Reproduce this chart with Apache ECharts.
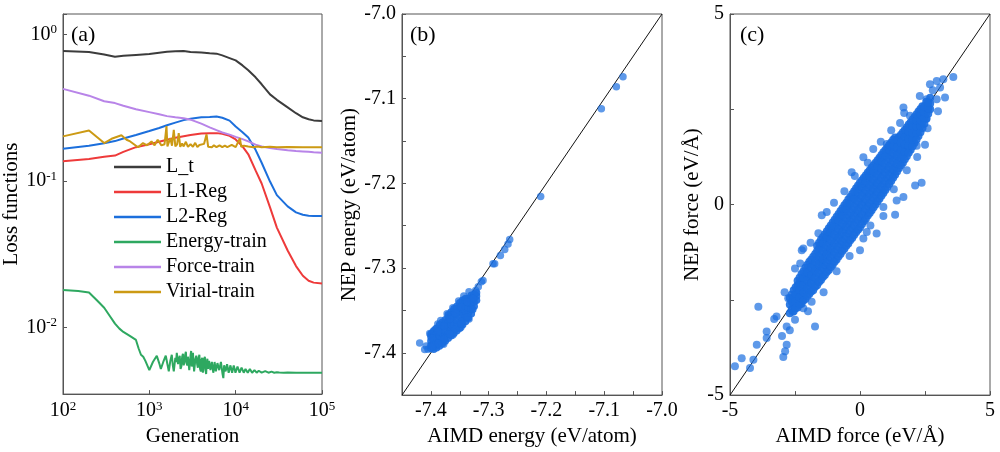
<!DOCTYPE html>
<html><head><meta charset="utf-8">
<script src="https://cdn.jsdelivr.net/npm/echarts@6/dist/echarts.min.js"></script>
<style>html,body{margin:0;padding:0;background:#fff}#c{width:1000px;height:452px}</style>
</head><body><div id="c"></div>
<script>
const FONT = '"Liberation Serif","Times New Roman",serif';

// ---------- Panel (a): loss functions ----------
const genGrid = [100,200,300,400,500,700,1000,1300,1600,2000,2500,3000,4000,5000,6000,7000,8500,10000,12000,14000,17000,20000,25000,30000,40000,50000,60000,70000,80000,100000];
const lossTotal = [0.77,0.76,0.73,0.705,0.715,0.725,0.735,0.75,0.762,0.768,0.772,0.76,0.752,0.745,0.74,0.72,0.69,0.665,0.615,0.57,0.51,0.457,0.39,0.358,0.318,0.29,0.272,0.264,0.259,0.257];
const lossL1 = [0.136,0.141,0.146,0.149,0.158,0.170,0.178,0.185,0.191,0.197,0.202,0.206,0.211,0.212,0.212,0.210,0.203,0.192,0.172,0.152,0.118,0.096,0.066,0.048,0.0335,0.0262,0.0225,0.0208,0.0202,0.0199];
const lossL2 = [0.166,0.174,0.181,0.187,0.195,0.206,0.219,0.23,0.24,0.25,0.26,0.266,0.272,0.273,0.275,0.27,0.258,0.235,0.215,0.198,0.163,0.133,0.099,0.08,0.067,0.061,0.0587,0.0578,0.0575,0.0575];
const lossForce = [0.425,0.382,0.35,0.34,0.326,0.309,0.295,0.285,0.277,0.272,0.268,0.262,0.246,0.232,0.222,0.214,0.207,0.200,0.193,0.186,0.177,0.172,0.168,0.165,0.162,0.160,0.159,0.158,0.157,0.156];

const energyGen = [100,150,200,250,300,350,400,450,500,600,700,750,800,850,900,1000,1100,1220,1300,1360,1450,1550,1620,1680,1750,1820,1870,1920,2000,2040,2080,2150,2200,2250,2300,2350,2400,2450,2500,2550,2600,2650,2700,2750,2800,2850,2900,2950,3000,3050,3100,3150,3200,3250,3300,3350,3420,3500,3580,3650,3720,3800,3870,3950,4020,4100,4170,4250,4320,4400,4470,4550,4620,4700,4780,4850,4920,5000,5100,5200,5300,5400,5500,5600,5700,5800,5900,6000,6150,6300,6450,6600,6750,6900,7050,7200,7350,7500,7650,7800,7950,8100,8300,8500,8700,8900,9100,9300,9500,9700,9950,10200,10500,10800,11100,11400,11700,12000,12400,12700,13000,13400,13800,14200,14600,15000,15500,16000,16500,17000,17500,18000,18500,19000,19500,20000,21000,22000,23000,24000,25000,26000,27000,28000,30000,32000,36000,40000,50000,70000,100000];
const energyLoss = [0.018,0.0177,0.0173,0.0152,0.0136,0.0119,0.0106,0.0098,0.0093,0.0087,0.0082,0.0072,0.0065,0.0063,0.0059,0.0051,0.0058,0.0064,0.0057,0.0052,0.0058,0.0064,0.0056,0.0050,0.0059,0.0065,0.0055,0.0050,0.0062,0.0058,0.0067,0.0056,0.0061,0.0064,0.0052,0.0054,0.0063,0.0066,0.0055,0.0058,0.0065,0.0068,0.0057,0.0055,0.0063,0.0065,0.0051,0.0052,0.0064,0.0069,0.0054,0.0056,0.0067,0.0066,0.0050,0.0051,0.0061,0.0064,0.0056,0.0053,0.0062,0.0065,0.0052,0.0050,0.0060,0.0062,0.0049,0.0054,0.0061,0.0063,0.0051,0.0048,0.0057,0.0061,0.0052,0.0053,0.0059,0.0060,0.0051,0.0050,0.0058,0.0059,0.0049,0.0052,0.0058,0.0058,0.0050,0.0049,0.0057,0.0058,0.0051,0.0052,0.0058,0.0057,0.0048,0.0045,0.0055,0.0056,0.0050,0.0051,0.0056,0.0057,0.0049,0.0050,0.0055,0.0056,0.0049,0.0050,0.0055,0.0055,0.0049,0.0049,0.0054,0.0054,0.0049,0.0050,0.0053,0.0053,0.0049,0.0049,0.0052,0.0052,0.0049,0.0048,0.0052,0.0052,0.0049,0.0049,0.0051,0.0051,0.0049,0.0049,0.00505,0.00505,0.0049,0.0049,0.00502,0.00502,0.0049,0.0049,0.00498,0.00498,0.0049,0.0049,0.00494,0.00492,0.0049,0.00491,0.00489,0.00489,0.00489,0.00488];

const virialGen = [100,200,300,365,475,545,600,740,845,940,1060,1150,1250,1380,1500,1580,1620,1750,1830,1920,2000,2100,2190,2280,2400,2500,2650,2800,3000,3200,3400,3600,3800,4000,4300,4600,4800,5000,5300,5600,6000,6500,7000,7500,8000,9000,10000,11200,11600,12500,14000,16000,18000,20000,25000,30000,40000,60000,100000];
const virialLoss = [0.2015,0.221,0.1814,0.194,0.205,0.191,0.186,0.1696,0.1814,0.175,0.186,0.175,0.191,0.175,0.178,0.237,0.172,0.196,0.174,0.2234,0.172,0.178,0.212,0.171,0.18,0.172,0.185,0.171,0.178,0.171,0.182,0.170,0.176,0.171,0.179,0.208,0.171,0.176,0.170,0.175,0.170,0.175,0.170,0.174,0.170,0.176,0.170,0.196,0.171,0.174,0.172,0.170,0.172,0.170,0.171,0.170,0.1705,0.170,0.170];

// ---------- Panel (b): energy parity ----------
const energyOutliers = [
[-7.0675,-7.0741],[-7.079,-7.0859],[-7.105,-7.1118],[-7.21,-7.2154],[-7.2636,-7.2664],[-7.2665,-7.2715],[-7.2722,-7.2782],[-7.2797,-7.2853],[-7.2896,-7.295],[-7.2925,-7.295],[-7.3098,-7.3147],[-7.3127,-7.3162],[-7.3225,-7.3264],[-7.318,-7.322],
[-7.4194,-7.3884],[-7.4107,-7.3962],[-7.405,-7.396],[-7.402,-7.3774],[-7.408,-7.392],
[-7.392,-7.372],[-7.383,-7.362],[-7.372,-7.354],[-7.362,-7.347],[-7.352,-7.339],[-7.343,-7.333],[-7.334,-7.328],
[-7.378,-7.390],[-7.362,-7.379],[-7.348,-7.370],[-7.334,-7.360],[-7.397,-7.376],[-7.388,-7.366]
];
const energyCluster = [
[-7.400,-7.395],[-7.400,-7.391],[-7.400,-7.386],[-7.400,-7.381],[-7.400,-7.378],
[-7.395,-7.396],[-7.395,-7.391],[-7.395,-7.385],[-7.395,-7.379],[-7.395,-7.374],
[-7.390,-7.394],[-7.390,-7.388],[-7.390,-7.382],[-7.390,-7.377],[-7.390,-7.371],
[-7.385,-7.392],[-7.385,-7.386],[-7.385,-7.380],[-7.385,-7.374],[-7.385,-7.367],
[-7.380,-7.389],[-7.380,-7.383],[-7.380,-7.377],[-7.380,-7.370],[-7.380,-7.364],
[-7.375,-7.386],[-7.375,-7.380],[-7.375,-7.374],[-7.375,-7.367],[-7.375,-7.361],
[-7.370,-7.383],[-7.370,-7.377],[-7.370,-7.370],[-7.370,-7.364],[-7.370,-7.358],[-7.370,-7.355],
[-7.365,-7.380],[-7.365,-7.374],[-7.365,-7.367],[-7.365,-7.361],[-7.365,-7.355],[-7.365,-7.352],
[-7.360,-7.377],[-7.360,-7.371],[-7.360,-7.364],[-7.360,-7.357],[-7.360,-7.351],[-7.360,-7.348],
[-7.355,-7.374],[-7.355,-7.367],[-7.355,-7.361],[-7.355,-7.354],[-7.355,-7.348],[-7.355,-7.345],
[-7.350,-7.371],[-7.350,-7.364],[-7.350,-7.357],[-7.350,-7.351],[-7.350,-7.345],[-7.350,-7.341],
[-7.345,-7.367],[-7.345,-7.361],[-7.345,-7.354],[-7.345,-7.348],[-7.345,-7.342],[-7.345,-7.338],
[-7.340,-7.363],[-7.340,-7.357],[-7.340,-7.351],[-7.340,-7.345],[-7.340,-7.339],[-7.340,-7.336],
[-7.335,-7.359],[-7.335,-7.353],[-7.335,-7.347],[-7.335,-7.341],[-7.335,-7.336],
[-7.330,-7.354],[-7.330,-7.348],[-7.330,-7.342],[-7.330,-7.337],[-7.330,-7.332],
[-7.325,-7.345],[-7.325,-7.340],[-7.325,-7.335],[-7.325,-7.331],
[-7.321,-7.338],[-7.321,-7.333],[-7.321,-7.329],
[-7.3975,-7.393],[-7.3975,-7.383],[-7.3875,-7.389],[-7.3875,-7.375],[-7.3775,-7.384],[-7.3775,-7.368],
[-7.3675,-7.378],[-7.3675,-7.360],[-7.3575,-7.372],[-7.3575,-7.353],[-7.3475,-7.366],[-7.3475,-7.346],
[-7.3375,-7.358],[-7.3375,-7.340],[-7.3275,-7.349],[-7.3275,-7.336]
];

// ---------- Panel (c): force parity ----------
const forceCore = [
[-2.70,-2.85],[-2.70,-2.62],[-2.70,-2.45],
[-2.55,-2.80],[-2.55,-2.62],[-2.55,-2.43],[-2.55,-2.25],
[-2.40,-2.70],[-2.40,-2.50],[-2.40,-2.31],[-2.40,-2.12],[-2.40,-2.00],
[-2.25,-2.60],[-2.25,-2.40],[-2.25,-2.20],[-2.25,-2.00],[-2.25,-1.82],
[-2.10,-2.48],[-2.10,-2.27],[-2.10,-2.06],[-2.10,-1.86],[-2.10,-1.66],
[-1.95,-2.35],[-1.95,-2.13],[-1.95,-1.92],[-1.95,-1.71],[-1.95,-1.50],
[-1.80,-2.25],[-1.80,-2.02],[-1.80,-1.80],[-1.80,-1.58],[-1.80,-1.37],
[-1.65,-2.12],[-1.65,-1.88],[-1.65,-1.65],[-1.65,-1.43],[-1.65,-1.22],[-1.65,-1.08],
[-1.50,-1.98],[-1.50,-1.74],[-1.50,-1.51],[-1.50,-1.29],[-1.50,-1.07],[-1.50,-0.92],
[-1.35,-1.85],[-1.35,-1.60],[-1.35,-1.37],[-1.35,-1.15],[-1.35,-0.92],[-1.35,-0.78],
[-1.20,-1.72],[-1.20,-1.46],[-1.20,-1.23],[-1.20,-1.01],[-1.20,-0.78],[-1.20,-0.62],
[-1.05,-1.58],[-1.05,-1.32],[-1.05,-1.09],[-1.05,-0.86],[-1.05,-0.63],[-1.05,-0.47],
[-0.90,-1.44],[-0.90,-1.18],[-0.90,-0.94],[-0.90,-0.71],[-0.90,-0.48],[-0.90,-0.32],
[-0.75,-1.30],[-0.75,-1.04],[-0.75,-0.80],[-0.75,-0.57],[-0.75,-0.34],[-0.75,-0.17],
[-0.60,-1.16],[-0.60,-0.90],[-0.60,-0.66],[-0.60,-0.42],[-0.60,-0.19],[-0.60,-0.02],
[-0.45,-1.02],[-0.45,-0.76],[-0.45,-0.51],[-0.45,-0.28],[-0.45,-0.05],[-0.45,0.13],
[-0.30,-0.88],[-0.30,-0.62],[-0.30,-0.37],[-0.30,-0.13],[-0.30,0.10],[-0.30,0.28],
[-0.15,-0.73],[-0.15,-0.47],[-0.15,-0.22],[-0.15,0.02],[-0.15,0.25],[-0.15,0.43],
[0.00,-0.60],[0.00,-0.33],[0.00,-0.08],[0.00,0.16],[0.00,0.39],[0.00,0.58],
[0.15,-0.44],[0.15,-0.18],[0.15,0.07],[0.15,0.30],[0.15,0.53],[0.15,0.70],
[0.30,-0.29],[0.30,-0.04],[0.30,0.21],[0.30,0.44],[0.30,0.67],[0.30,0.84],
[0.45,-0.15],[0.45,0.10],[0.45,0.35],[0.45,0.58],[0.45,0.80],[0.45,0.97],
[0.60,0.00],[0.60,0.25],[0.60,0.49],[0.60,0.72],[0.60,0.94],[0.60,1.10],
[0.75,0.15],[0.75,0.40],[0.75,0.63],[0.75,0.86],[0.75,1.08],[0.75,1.23],
[0.90,0.30],[0.90,0.54],[0.90,0.78],[0.90,1.00],[0.90,1.22],[0.90,1.37],
[1.05,0.46],[1.05,0.69],[1.05,0.92],[1.05,1.14],[1.05,1.36],[1.05,1.50],
[1.20,0.62],[1.20,0.84],[1.20,1.06],[1.20,1.28],[1.20,1.50],[1.20,1.63],
[1.35,0.78],[1.35,0.99],[1.35,1.21],[1.35,1.42],[1.35,1.63],[1.35,1.76],
[1.50,0.95],[1.50,1.15],[1.50,1.36],[1.50,1.56],[1.50,1.77],
[1.65,1.10],[1.65,1.30],[1.65,1.50],[1.65,1.70],[1.65,1.90],
[1.80,1.27],[1.80,1.46],[1.80,1.65],[1.80,1.84],[1.80,2.03],
[1.95,1.44],[1.95,1.62],[1.95,1.80],[1.95,1.98],[1.95,2.16],
[2.10,1.62],[2.10,1.79],[2.10,1.96],[2.10,2.13],[2.10,2.30],
[2.25,1.80],[2.25,1.96],[2.25,2.12],[2.25,2.28],[2.25,2.44],
[2.40,2.00],[2.40,2.15],[2.40,2.30],[2.40,2.45],[2.40,2.58],
[2.55,2.25],[2.55,2.40],[2.55,2.55],[2.55,2.70],
[2.70,2.50],[2.70,2.65],[2.70,2.80],
[-2.625,-2.75],[-2.625,-2.55],[-2.625,-2.36],
[-2.475,-2.72],[-2.475,-2.53],[-2.475,-2.34],[-2.475,-2.17],
[-2.325,-2.62],[-2.325,-2.43],[-2.325,-2.24],[-2.325,-2.06],[-2.325,-1.92],
[-2.175,-2.52],[-2.175,-2.31],[-2.175,-2.11],[-2.175,-1.92],[-2.175,-1.75],
[-2.025,-2.40],[-2.025,-2.19],[-2.025,-1.98],[-2.025,-1.78],[-2.025,-1.58],
[-1.875,-2.28],[-1.875,-2.06],[-1.875,-1.85],[-1.875,-1.64],[-1.875,-1.44],
[-1.725,-2.16],[-1.725,-1.93],[-1.725,-1.71],[-1.725,-1.50],[-1.725,-1.30],
[-1.575,-2.03],[-1.575,-1.80],[-1.575,-1.57],[-1.575,-1.36],[-1.575,-1.15],[-1.575,-1.00],
[-1.425,-1.90],[-1.425,-1.66],[-1.425,-1.44],[-1.425,-1.22],[-1.425,-1.00],[-1.425,-0.85],
[-1.275,-1.77],[-1.275,-1.52],[-1.275,-1.30],[-1.275,-1.08],[-1.275,-0.86],[-1.275,-0.70],
[-1.125,-1.64],[-1.125,-1.39],[-1.125,-1.16],[-1.125,-0.93],[-1.125,-0.71],[-1.125,-0.55],
[-0.975,-1.50],[-0.975,-1.25],[-0.975,-1.02],[-0.975,-0.79],[-0.975,-0.56],[-0.975,-0.40],
[-0.825,-1.36],[-0.825,-1.11],[-0.825,-0.87],[-0.825,-0.64],[-0.825,-0.41],[-0.825,-0.25],
[-0.675,-1.22],[-0.675,-0.97],[-0.675,-0.73],[-0.675,-0.50],[-0.675,-0.27],[-0.675,-0.10],
[-0.525,-1.08],[-0.525,-0.83],[-0.525,-0.58],[-0.525,-0.35],[-0.525,-0.12],[-0.525,0.05],
[-0.375,-0.94],[-0.375,-0.69],[-0.375,-0.44],[-0.375,-0.20],[-0.375,0.03],[-0.375,0.20],
[-0.225,-0.80],[-0.225,-0.54],[-0.225,-0.29],[-0.225,-0.06],[-0.225,0.17],[-0.225,0.35],
[-0.075,-0.66],[-0.075,-0.40],[-0.075,-0.15],[-0.075,0.09],[-0.075,0.32],[-0.075,0.50],
[0.075,-0.52],[0.075,-0.26],[0.075,-0.01],[0.075,0.23],[0.075,0.46],[0.075,0.64],
[0.225,-0.37],[0.225,-0.11],[0.225,0.14],[0.225,0.37],[0.225,0.60],[0.225,0.77],
[0.375,-0.22],[0.375,0.03],[0.375,0.28],[0.375,0.51],[0.375,0.74],[0.375,0.90],
[0.525,-0.07],[0.525,0.18],[0.525,0.42],[0.525,0.65],[0.525,0.87],[0.525,1.03],
[0.675,0.08],[0.675,0.33],[0.675,0.56],[0.675,0.79],[0.675,1.01],[0.675,1.16],
[0.825,0.23],[0.825,0.47],[0.825,0.70],[0.825,0.93],[0.825,1.15],[0.825,1.30],
[0.975,0.38],[0.975,0.62],[0.975,0.85],[0.975,1.07],[0.975,1.29],[0.975,1.43],
[1.125,0.54],[1.125,0.77],[1.125,0.99],[1.125,1.21],[1.125,1.43],[1.125,1.56],
[1.275,0.70],[1.275,0.92],[1.275,1.14],[1.275,1.35],[1.275,1.56],[1.275,1.70],
[1.425,0.87],[1.425,1.07],[1.425,1.29],[1.425,1.49],[1.425,1.70],
[1.575,1.03],[1.575,1.23],[1.575,1.43],[1.575,1.63],[1.575,1.83],
[1.725,1.19],[1.725,1.38],[1.725,1.58],[1.725,1.77],[1.725,1.96],
[1.875,1.36],[1.875,1.54],[1.875,1.73],[1.875,1.91],[1.875,2.10],
[2.025,1.53],[2.025,1.71],[2.025,1.88],[2.025,2.06],[2.025,2.23],
[2.175,1.71],[2.175,1.88],[2.175,2.04],[2.175,2.20],[2.175,2.37],
[2.325,1.90],[2.325,2.06],[2.325,2.21],[2.325,2.37],[2.325,2.51],
[2.475,2.12],[2.475,2.28],[2.475,2.43],[2.475,2.58],
[2.625,2.38],[2.625,2.53],[2.625,2.68]
];
const forceFringe = [
[3.59,3.35],[3.205,3.285],[2.95,3.24],[2.69,3.154],[3.08,3.07],[3.27,2.81],[2.95,2.76],[2.56,2.76],[1.67,2.545],[2.44,2.46],[2.18,2.28],[2.56,2.26],[2.18,1.544],[2.50,1.57],[1.54,1.50],[2.37,0.57],[2.12,0.50],[1.67,0.195],[1.41,0.108],[1.35,-0.266],[0.90,-0.066],[0.64,-0.762],[0.0,-1.197],[0.13,-0.893],[-1.28,-0.197],[-1.47,-0.28],[-2.18,-1.15],[-2.50,-3.02],[-3.91,-2.68],[-2.82,-3.20],[-2.95,-4.0],[-2.88,-3.85],[-2.82,-3.68],[-3.21,-2.94],[-3.59,-3.33],[-3.59,-3.50],[-3.97,-3.68],[-4.23,-4.29],[-4.55,-4.03],[-4.81,-4.24],[-4.10,-4.07],[-1.73,-3.20],[-1.86,-2.55],[-2.18,-2.72],[-2.44,-2.42],[-2.76,-2.46],[-2.59,-2.81],[0.51,1.46],[0.13,1.24],[-0.32,0.85],[1.03,1.59],[1.54,2.14],[1.92,2.33],
[-1.9,-1.0],[-1.6,-0.75],[-1.0,0.05],[-0.6,0.35],[-0.2,0.75],[0.3,1.1],[0.8,1.65],[1.2,1.95],[1.7,2.4],[2.3,2.85],[2.8,3.0],[-2.3,-1.55],[-2.9,-2.3],[-2.7,-3.3],[-2.0,-2.8],[-1.4,-2.3],[-0.9,-1.75],[-0.4,-1.35],[0.4,-0.55],[0.9,-0.3],[1.3,0.4],[1.8,0.9],[2.2,1.25],[2.6,2.0],[3.0,2.45],[-3.3,-3.0],[-3.0,-3.45],[-2.5,-1.68],[0.26,-0.72],[-2.24,-1.20]
];

const lineNames = ['L_t','L1-Reg','L2-Reg','Energy-train','Force-train','Virial-train'];
const lineColors = ['#3c3c3c','#ee3a3a','#1c6fdc','#2ea860','#b884e8','#cc9a14'];

function pairs(xs, ys){ return xs.map((x,i)=>[x, ys[i]]); }

const tickLbl = {fontFamily: FONT, fontSize: 20, color: '#000'};
const nameStyle = {fontFamily: FONT, fontSize: 21, color: '#000'};
const axisLineStyle = {show:true, onZero:false, lineStyle:{color:'#555', width:1}};
const tickStyle = {show:true, inside:true, length:4, lineStyle:{color:'#555'}};

function logFmt(v){
  const e = Math.log10(v); const r = Math.round(e);
  if (Math.abs(e - r) > 1e-6) return '';
  return '{b|10}{s|' + r + '}';
}
const logRich = {
  b:{fontFamily:FONT, fontSize:20, lineHeight:22, color:'#000'},
  s:{fontFamily:FONT, fontSize:13, lineHeight:13, verticalAlign:'top', color:'#000'}
};

const gridBox = {show:true, borderColor:'#555', borderWidth:1, backgroundColor:'transparent'};
const energyFmt = v=>{const t=Math.round(v*100);return t%10===0?v.toFixed(1):'';};
const forceFmt = v=>{return Math.round(v*10)%50===0?String(Math.round(v)):'';};
const DOT = '#1a6ee0';

const chart = echarts.init(document.getElementById('c'), null, {renderer:'canvas'});
const option = {
  animation:false,
  backgroundColor:'#fff',
  grid:[
    Object.assign({left:63, top:14, width:259, height:382}, gridBox),
    Object.assign({left:402, top:14, width:260, height:382}, gridBox),
    Object.assign({left:730, top:14, width:260, height:383}, gridBox)
  ],
  legend:{
    data: lineNames, orient:'vertical', left:109, top:152,
    itemWidth:47, itemHeight:2.5, itemGap:5, icon:'rect',
    textStyle:{fontFamily:FONT, fontSize:20, color:'#000', lineHeight:20}
  },
  graphic:[
    {type:'text', left:71, top:24, style:{text:'(a)', font:'22px '+FONT, fill:'#000'}},
    {type:'text', left:410, top:24, style:{text:'(b)', font:'22px '+FONT, fill:'#000'}},
    {type:'text', left:740, top:24, style:{text:'(c)', font:'22px '+FONT, fill:'#000'}}
  ],
  xAxis:[
    {gridIndex:0, type:'log', logBase:10, min:100, max:100000,
     axisLine:axisLineStyle, axisTick:tickStyle, splitLine:{show:false}, minorTick:{show:false},
     axisLabel:{formatter:logFmt, rich:logRich, margin:6},
     name:'Generation', nameLocation:'middle', nameGap:31, nameTextStyle:nameStyle},
    {gridIndex:1, type:'value', min:-7.45, max:-7.0, interval:0.05,
     axisLine:axisLineStyle, axisTick:tickStyle, splitLine:{show:false},
     axisLabel:Object.assign({margin:6, formatter:energyFmt}, tickLbl),
     name:'AIMD energy (eV/atom)', nameLocation:'middle', nameGap:30, nameTextStyle:nameStyle},
    {gridIndex:2, type:'value', min:-5, max:5, interval:2.5,
     axisLine:axisLineStyle, axisTick:tickStyle, splitLine:{show:false},
     axisLabel:Object.assign({margin:6, formatter:forceFmt}, tickLbl),
     name:'AIMD force (eV/Å)', nameLocation:'middle', nameGap:30, nameTextStyle:nameStyle}
  ],
  yAxis:[
    {gridIndex:0, type:'log', logBase:10, min:0.0035, max:1.38,
     axisLine:axisLineStyle, axisTick:tickStyle, splitLine:{show:false}, minorTick:{show:false},
     axisLabel:{formatter:logFmt, rich:logRich, margin:6},
     name:'Loss functions', nameLocation:'middle', nameGap:39, nameTextStyle:nameStyle},
    {gridIndex:1, type:'value', min:-7.45, max:-7.0, interval:0.05,
     axisLine:axisLineStyle, axisTick:tickStyle, splitLine:{show:false},
     axisLabel:Object.assign({margin:6, formatter:energyFmt}, tickLbl),
     name:'NEP energy (eV/atom)', nameLocation:'middle', nameGap:37, nameTextStyle:nameStyle},
    {gridIndex:2, type:'value', min:-5, max:5, interval:2.5,
     axisLine:axisLineStyle, axisTick:tickStyle, splitLine:{show:false},
     axisLabel:Object.assign({margin:6, formatter:forceFmt}, tickLbl),
     name:'NEP force (eV/Å)', nameLocation:'middle', nameGap:26, nameTextStyle:nameStyle}
  ],
  series:[
    {name:'L_t', type:'line', xAxisIndex:0, yAxisIndex:0, data:pairs(genGrid, lossTotal)},
    {name:'L1-Reg', type:'line', xAxisIndex:0, yAxisIndex:0, data:pairs(genGrid, lossL1)},
    {name:'L2-Reg', type:'line', xAxisIndex:0, yAxisIndex:0, data:pairs(genGrid, lossL2)},
    {name:'Energy-train', type:'line', xAxisIndex:0, yAxisIndex:0, data:pairs(energyGen, energyLoss)},
    {name:'Force-train', type:'line', xAxisIndex:0, yAxisIndex:0, data:pairs(genGrid, lossForce)},
    {name:'Virial-train', type:'line', xAxisIndex:0, yAxisIndex:0, data:pairs(virialGen, virialLoss)},
    {name:'diagE', type:'line', xAxisIndex:1, yAxisIndex:1, z:1, data:[[-7.45,-7.45],[-7.0,-7.0]], symbol:'none', silent:true,
     lineStyle:{color:'#111', width:1}},
    {name:'energyOut', type:'scatter', xAxisIndex:1, yAxisIndex:1, z:3, data:energyOutliers, symbolSize:7.5,
     itemStyle:{color:DOT, opacity:0.7}},
    {name:'energyCluster', type:'scatter', xAxisIndex:1, yAxisIndex:1, z:4, data:energyCluster, symbolSize:7.5,
     itemStyle:{color:DOT, opacity:0.92}},
    {name:'diagF', type:'line', xAxisIndex:2, yAxisIndex:2, z:1, data:[[-5,-5],[5,5]], symbol:'none', silent:true,
     lineStyle:{color:'#111', width:1}},
    {name:'forceFringe', type:'scatter', xAxisIndex:2, yAxisIndex:2, z:3, data:forceFringe, symbolSize:8,
     itemStyle:{color:DOT, opacity:0.7}},
    {name:'forceCore', type:'scatter', xAxisIndex:2, yAxisIndex:2, z:4, data:forceCore, symbolSize:8,
     itemStyle:{color:DOT, opacity:0.9}}
  ]
};
option.series.forEach((s,i)=>{
  if (i < 6) {
    s.symbol = 'none'; s.showSymbol = false;
    s.lineStyle = {color: lineColors[i], width: 2};
    s.itemStyle = {color: lineColors[i]};
  }
});
chart.setOption(option);
</script>
</body></html>
